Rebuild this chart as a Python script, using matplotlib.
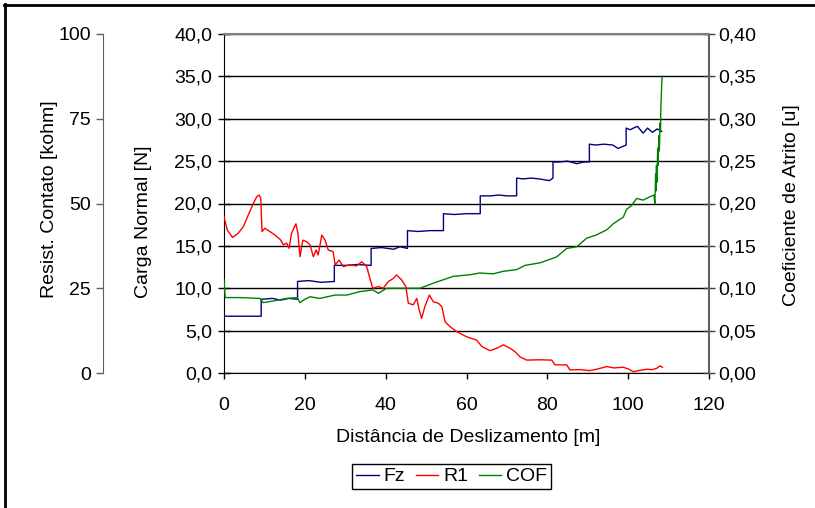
import matplotlib
matplotlib.use("Agg")
import matplotlib.pyplot as plt
from matplotlib.lines import Line2D
from matplotlib.ticker import FuncFormatter, FixedLocator

plt.rcParams['font.family'] = ['Liberation Sans', 'DejaVu Sans']
FS = 14

# ---------------- data ----------------
fz_x = [0, 3, 6, 9.2, 9.2, 12, 14, 16, 18.2, 18.2, 21, 24, 27.3, 27.3, 30, 33, 36.4,
        36.4, 39, 42, 43.5, 45.4, 45.4, 48, 51, 54.3, 54.3, 57, 60, 63.4, 63.4, 66, 68,
        70, 72.4, 72.4, 74, 76, 78, 80.5, 81.4, 81.4, 83, 85, 87.3, 89, 90.4, 90.4, 92,
        94, 96.2, 97.5, 99.5, 99.5, 100.5, 101.3, 102.3, 103.7, 104.8, 106, 107.2, 108.3]
fz_y = [6.7, 6.7, 6.7, 6.7, 8.7, 8.8, 8.6, 8.8, 8.7, 10.8, 10.9, 10.7, 10.8, 12.7, 12.7,
        12.8, 12.7, 14.7, 14.8, 14.6, 14.9, 14.7, 16.8, 16.7, 16.8, 16.8, 18.8, 18.7,
        18.8, 18.8, 20.9, 20.9, 21.0, 20.9, 20.9, 23.0, 22.9, 23.0, 22.9, 22.7, 23.0,
        24.9, 24.9, 25.0, 24.7, 24.9, 24.9, 27.0, 26.9, 27.0, 26.9, 26.5, 26.9, 28.9,
        28.7, 28.9, 29.1, 28.3, 28.9, 28.4, 28.8, 28.5]

r1_x = [0, 0.8, 2.1, 3.5, 4.8, 6.0, 7.3, 8.1, 8.7, 9.1, 9.4, 10.1, 11.4, 12.6, 13.9,
        14.7, 15.5, 16.1, 16.7, 17.8, 18.3, 18.8, 19.5, 20.5, 21.3, 22.1, 22.8, 23.3,
        24.2, 25.0, 25.8, 27.0, 27.5, 28.5, 29.5, 31.2, 32.8, 34.1, 35.3, 36.1, 36.8,
        38.2, 39.4, 40.6, 41.9, 42.7, 44.0, 45.0, 45.6, 46.8, 47.7, 48.3, 48.9, 49.7,
        50.8, 51.8, 53.0, 53.9, 54.7, 55.9, 57.6, 60.0, 62.5, 63.8, 65.8, 67.5, 69.1,
        70.8, 72.0, 73.2, 74.9, 78.0, 81.1, 81.9, 84.8, 85.6, 88.0, 90.5, 92.5, 94.7,
        96.5, 98.8, 100.0, 101.3, 103.0, 104.6, 106.0, 107.1, 107.9, 108.5]
r1_y = [46.1, 42.2, 40.0, 41.2, 43.2, 46.6, 50.1, 52.0, 52.5, 51.5, 41.7, 42.7, 41.7,
        40.7, 39.4, 37.8, 38.3, 36.8, 41.2, 44.0, 41.2, 34.3, 39.2, 38.7, 37.8, 34.3,
        36.3, 34.8, 40.7, 39.2, 36.3, 35.8, 31.9, 33.3, 31.4, 31.9, 31.6, 32.8, 31.4,
        27.9, 25.0, 25.5, 25.0, 26.9, 27.9, 28.9, 27.4, 25.5, 20.6, 20.1, 22.0, 18.6,
        16.1, 19.6, 23.0, 21.0, 20.6, 19.6, 15.1, 13.7, 12.2, 10.7, 9.7, 7.8, 6.6, 7.3,
        8.3, 7.3, 6.3, 4.8, 3.8, 3.9, 3.8, 2.4, 2.4, 0.9, 1.0, 0.7, 1.2, 1.9, 1.5, 1.7,
        1.2, 0.4, 0.8, 1.1, 1.0, 1.4, 2.1, 1.7]

cof_x = [0, 0.3, 4.0, 8.9, 9.7, 12.2, 15.5, 18.1, 18.8, 20.0, 21.3, 23.7, 27.5, 30.4,
         33.6, 36.9, 38.2, 40.2, 45.2, 48.5, 51.8, 56.7, 60.9, 63.3, 66.6, 69.1, 72.4,
         74.5, 78.2, 82.3, 84.8, 87.3, 89.7, 92.2, 94.7, 96.3, 98.8, 99.6, 100.9, 102.1,
         103.7, 105.4, 106.4, 106.6, 106.8, 106.9, 107.0, 107.1, 107.3, 107.4, 107.6,
         107.7, 107.9, 108.0, 108.1, 108.3, 108.4]
cof_y = [0.110, 0.089, 0.089, 0.088, 0.083, 0.085, 0.088, 0.089, 0.083, 0.087, 0.090,
         0.088, 0.092, 0.092, 0.096, 0.098, 0.094, 0.100, 0.100, 0.100, 0.106, 0.114,
         0.116, 0.118, 0.117, 0.120, 0.122, 0.127, 0.130, 0.137, 0.147, 0.149, 0.159,
         0.163, 0.169, 0.176, 0.184, 0.193, 0.198, 0.206, 0.204, 0.208, 0.210, 0.200,
         0.235, 0.215, 0.245, 0.225, 0.265, 0.245, 0.280, 0.262, 0.295, 0.285, 0.315,
         0.340, 0.350]

x_ticks = [0, 20, 40, 60, 80, 100, 120]
fz_ticks = [0, 5, 10, 15, 20, 25, 30, 35, 40]
cof_ticks = [0.0, 0.05, 0.10, 0.15, 0.20, 0.25, 0.30, 0.35, 0.40]
r_ticks = [0, 25, 50, 75, 100]

# ---------------- figure ----------------
W, H = 815, 508
fig = plt.figure(figsize=(W / 100, H / 100), dpi=100)
L, R, T, B = 224, 709, 34, 373
ax = fig.add_axes([L / W, 1 - B / H, (R - L) / W, (B - T) / H])
ax2 = ax.twinx()
ax3 = ax.twinx()

PX = 72 / 100  # points per pixel

c_fz, c_r1, c_cof = '#000080', '#FF0000', '#008000'
ax.plot(fz_x, fz_y, color=c_fz, lw=1.0, zorder=3)
ax3.plot(r1_x, r1_y, color=c_r1, lw=1.0, zorder=3)
ax2.plot(cof_x, cof_y, color=c_cof, lw=1.0, zorder=3)

ax.set_xlim(0, 120)
ax.set_ylim(0, 40)
ax2.set_ylim(0, 0.40)
ax3.set_ylim(0, 100)

ax.xaxis.set_major_locator(FixedLocator(x_ticks))
ax.yaxis.set_major_locator(FixedLocator(fz_ticks))
ax2.yaxis.set_major_locator(FixedLocator(cof_ticks))
ax3.yaxis.set_major_locator(FixedLocator(r_ticks))

ax.yaxis.set_major_formatter(FuncFormatter(lambda v, p: f"{v:.1f}".replace('.', ',')))
ax2.yaxis.set_major_formatter(FuncFormatter(lambda v, p: f"{v:.2f}".replace('.', ',')))
ax3.yaxis.set_major_formatter(FuncFormatter(lambda v, p: f"{v:.0f}"))
ax.xaxis.set_major_formatter(FuncFormatter(lambda v, p: f"{v:.0f}"))

ax.grid(axis='y', color='black', lw=1.0)
ax.set_axisbelow(True)

ax.tick_params(axis='x', direction='out', length=6 * PX, width=1, pad=18 * PX,
               labelsize=FS, colors='black')
ax.tick_params(axis='y', direction='inout', length=12 * PX, width=1, pad=6 * PX,
               labelsize=FS)
ax2.tick_params(axis='y', direction='inout', length=12 * PX, width=1, pad=3 * PX,
                labelsize=FS, color='#404040')
ax3.tick_params(axis='y', which='both', direction='out', length=7 * PX, width=1,
                pad=5 * PX, labelsize=FS, left=True, labelleft=True, right=False,
                labelright=False, color='#606060')

for s in ['top', 'right']:
    ax.spines[s].set_visible(False)
ax.spines['left'].set_color('black')
ax.spines['bottom'].set_color('black')
ax2.spines['top'].set_color('#808080')
ax2.spines['top'].set_linewidth(1.5)
ax2.spines['right'].set_color('#606060')
ax2.spines['right'].set_linewidth(1.5)
ax2.spines['left'].set_visible(False)
ax2.spines['bottom'].set_visible(False)

ax3.spines['left'].set_position(('axes', (103 - L) / (R - L)))
ax3.spines['left'].set_color('#606060')
ax3.spines['left'].set_visible(True)
for s in ['right', 'top', 'bottom']:
    ax3.spines[s].set_visible(False)
ax3.yaxis.set_label_position('left')
ax3.yaxis.set_ticks_position('left')

# axis titles placed by pixel position
def ftext(x, y, s, rot=0):
    fig.text(x / W, 1 - y / H, s, rotation=rot, ha='center', va='center', fontsize=FS)

ftext(468, 437, 'Distância de Deslizamento [m]')
ftext(143, 222, 'Carga Normal [N]', 90)
ftext(50, 199, 'Resist. Contato [kohm]', 90)
ftext(791, 205, 'Coeficiente de Atrito [u]', 90)

handles = [Line2D([], [], color=c_fz, lw=1), Line2D([], [], color=c_r1, lw=1),
           Line2D([], [], color=c_cof, lw=1)]
leg = fig.legend(handles, ['Fz', 'R1', 'COF'], loc='center',
                 bbox_to_anchor=(451.5 / W, 1 - 476.5 / H), ncol=3, frameon=True,
                 fancybox=False, edgecolor='black', framealpha=1, fontsize=FS,
                 handlelength=1.15, handletextpad=0.25, columnspacing=0.55,
                 borderpad=0.2, borderaxespad=0)
leg.get_frame().set_linewidth(1.0)

# outer border (left and top edges)
fig.add_artist(Line2D([5 / W, 5 / W], [0, 1 - 4 / H], transform=fig.transFigure,
                      color='black', lw=2 * PX * 1.0 * 100 / 72))
fig.add_artist(Line2D([4 / W, 1], [1 - 5 / H, 1 - 5 / H], transform=fig.transFigure,
                      color='black', lw=2 * PX * 100 / 72))

fig.savefig('out.png', dpi=100, facecolor='white')
